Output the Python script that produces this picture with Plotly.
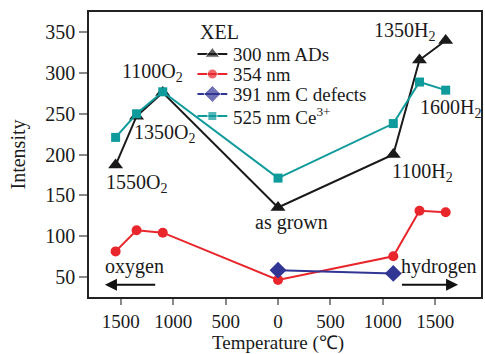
import plotly.graph_objects as go

# x: negative = oxygen anneal temperature, positive = hydrogen anneal temperature, 0 = as grown
x_all = [-1550, -1350, -1100, 0, 1100, 1350, 1600]
ads_300 = [187, 247, 276, 135, 200, 316, 340]
nm_354 = [81, 107, 104, 46, 75, 131, 129]
ce_525 = [221, 250, 277, 171, 238, 289, 279]
x_cdef = [0, 1100]
cdef_391 = [58, 54]

tick_vals = [-1500, -1000, -500, 0, 500, 1000, 1500]
tick_text = ["1500", "1000", "500", "0", "500", "1000", "1500"]

series_names = ["300 nm ADs", "354 nm", "391 nm C defects", "525 nm Ce<sup>3+</sup>"]
series_colors = ["#1a1a1a", "#e8262c", "#313695", "#0f9a9c"]
series_symbols = ["triangle-up", "circle", "diamond", "square"]
series_sizes = [13, 10, 13, 9]

FONT = "Liberation Serif"
TXT = "#1a1a1a"

fig = go.Figure()
data_sets = [(x_all, ads_300), (x_all, nm_354), (x_cdef, cdef_391), (x_all, ce_525)]
for (xs, ys), nm, c, s, sz in zip(data_sets, series_names, series_colors, series_symbols, series_sizes):
    fig.add_trace(go.Scatter(x=xs, y=ys, mode="lines+markers", name=nm, showlegend=False,
                             line=dict(color=c, width=2),
                             marker=dict(symbol=s, size=sz, color=c)))

# legend drawn on an overlay axis (pixel-like scale of the plot area)
leg_rows = [54, 74, 94, 116]
for row, nm, c, s, sz in zip(leg_rows, series_names, series_colors, series_symbols, series_sizes):
    fig.add_trace(go.Scatter(x=[198, 213, 228], y=[row, row, row], mode="lines+markers",
                             xaxis="x2", yaxis="y2", showlegend=False, hoverinfo="skip",
                             line=dict(color=c, width=2),
                             marker=dict(symbol=s, size=[0, sz, 0], color=c)))
    fig.add_annotation(x=233, y=row, xref="x2", yref="y2", text=nm, showarrow=False,
                       xanchor="left", yanchor="middle", borderpad=0,
                       font=dict(family=FONT, size=19, color=TXT))
fig.add_annotation(x=199, y=32, xref="x2", yref="y2", text="XEL", showarrow=False,
                   xanchor="left", yanchor="middle", font=dict(family=FONT, size=20, color=TXT))

labels = [
    ("1100O<sub>2</sub>", -1196, 301),
    ("1350O<sub>2</sub>", -1082, 226),
    ("1550O<sub>2</sub>", -1348, 164),
    ("as grown", 133, 116),
    ("1100H<sub>2</sub>", 1377, 178),
    ("1350H<sub>2</sub>", 1206, 351),
    ("1600H<sub>2</sub>", 1643, 257),
    ("oxygen", -1367, 62),
    ("hydrogen", 1538, 62),
]
for t, xx, yy in labels:
    fig.add_annotation(x=xx, y=yy, text=t, showarrow=False, xref="x", yref="y",
                       font=dict(family=FONT, size=20, color=TXT))

# direction arrows
fig.add_annotation(x=-1652, y=40, ax=-1158, ay=40, xref="x", yref="y", axref="x", ayref="y",
                   text="", showarrow=True, arrowhead=2, arrowsize=1.2, arrowwidth=2, arrowcolor="#111")
fig.add_annotation(x=1718, y=40, ax=1168, ay=40, xref="x", yref="y", axref="x", ayref="y",
                   text="", showarrow=True, arrowhead=2, arrowsize=1.2, arrowwidth=2, arrowcolor="#111")

# x-axis title (paper coordinates, centred under the 0 tick)
fig.add_annotation(x=(279 - 89) / (483 - 89), y=-(343 - 297) / (297 - 12),
                   xref="paper", yref="paper", text="Temperature (℃)", showarrow=False,
                   xanchor="center", yanchor="middle", borderpad=0,
                   font=dict(family=FONT, size=19, color=TXT))

fig.update_layout(
    width=485, height=354,
    margin=dict(l=89, r=2, t=12, b=57),
    plot_bgcolor="white", paper_bgcolor="white",
    font=dict(family=FONT, size=20, color=TXT),
    showlegend=False,
    xaxis=dict(range=[-1804, 1937], tickvals=tick_vals, ticktext=tick_text,
               showline=True, linecolor="#222", linewidth=1.5, mirror=True,
               ticks="outside", ticklen=6, tickcolor="#888", tickwidth=1.5,
               showgrid=False, zeroline=False,
               tickfont=dict(family=FONT, size=19, color=TXT)),
    yaxis=dict(range=[25, 375], tickvals=[50, 100, 150, 200, 250, 300, 350],
               showline=True, linecolor="#222", linewidth=1.5, mirror=True,
               ticks="outside", ticklen=8, tickcolor="#888", tickwidth=1.5,
               showgrid=False, zeroline=False,
               title=dict(text="Intensity", font=dict(family=FONT, size=20, color=TXT), standoff=14),
               tickfont=dict(family=FONT, size=20, color=TXT)),
    xaxis2=dict(overlaying="x", range=[89, 483], visible=False, fixedrange=True),
    yaxis2=dict(overlaying="y", range=[297, 12], visible=False, fixedrange=True),
)

fig.write_html("out.html")
